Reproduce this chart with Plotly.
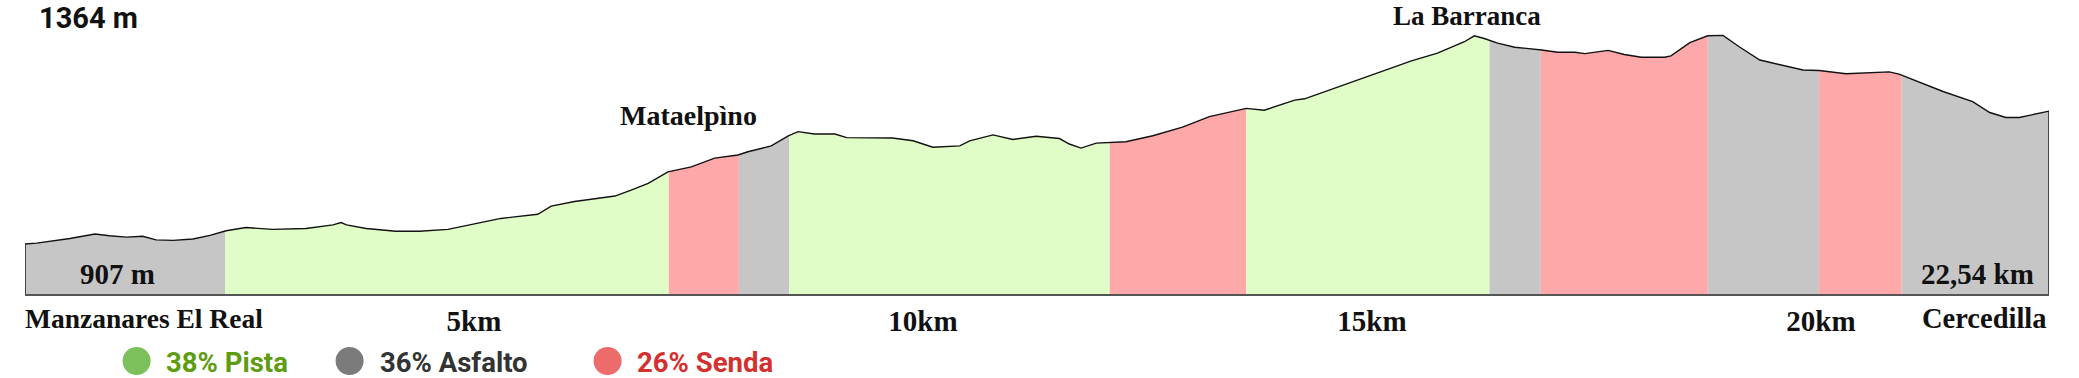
import numpy as np
import plotly.graph_objects as go

# ---------------- data ----------------
km = [0.00, 0.13, 0.31, 0.50, 0.78, 0.94, 1.13, 1.31, 1.46, 1.65, 1.87, 2.06, 2.24, 2.46,
      2.76, 3.13, 3.43, 3.52, 3.58, 3.80, 4.13, 4.39, 4.71, 5.01, 5.30, 5.71, 5.86, 6.12,
      6.57, 6.75, 6.94, 7.16, 7.42, 7.68, 7.94, 8.05, 8.31, 8.50, 8.61, 8.79, 9.02, 9.15,
      9.66, 9.89, 10.11, 10.41, 10.52, 10.78, 11.00, 11.26, 11.52, 11.63, 11.76, 11.93,
      12.08, 12.26, 12.56, 12.89, 13.19, 13.60, 13.80, 14.14, 14.25, 14.77, 15.10, 15.44,
      15.73, 16.03, 16.14, 16.25, 16.40, 16.59, 16.89, 17.07, 17.26, 17.37, 17.63, 17.81,
      18.00, 18.26, 18.33, 18.54, 18.74, 18.91, 19.09, 19.32, 19.80, 19.98, 20.28, 20.58,
      20.76, 20.87, 21.36, 21.69, 21.88, 22.06, 22.21, 22.54]
elevation = [907, 909, 914, 919, 929, 925, 922, 924, 916, 915, 918, 926, 936, 943,
             939, 941, 949, 954, 949, 941, 935, 935, 939, 951, 963, 972, 990, 1000,
             1012, 1025, 1040, 1065, 1076, 1095, 1102, 1109, 1122, 1144, 1153, 1148, 1148, 1140,
             1139, 1133, 1119, 1122, 1133, 1146, 1136, 1143, 1138, 1126, 1117, 1128,
             1130, 1131, 1144, 1163, 1186, 1204, 1200, 1222, 1225, 1262, 1284, 1308,
             1325, 1350, 1363, 1357, 1347, 1338, 1332, 1327, 1327, 1324, 1331, 1322,
             1316, 1316, 1319, 1348, 1363, 1364, 1339, 1310, 1288, 1287, 1280, 1282,
             1284, 1279, 1241, 1219, 1195, 1184, 1184, 1198]

seg_start = [0.00, 2.23, 7.17, 7.95, 8.51, 12.08, 13.60, 16.31, 16.88, 18.74, 19.98, 20.90]
seg_end = [2.23, 7.17, 7.95, 8.51, 12.08, 13.60, 16.31, 16.88, 18.74, 19.98, 20.90, 22.54]
seg_type = ["Asfalto", "Pista", "Senda", "Asfalto", "Pista", "Senda",
            "Pista", "Asfalto", "Senda", "Asfalto", "Senda", "Asfalto"]

tick_km = [5, 10, 15, 20]
tick_labels = ["5km", "10km", "15km", "20km"]

legend_names = ["Pista", "Asfalto", "Senda"]
legend_pct = [38, 36, 26]

start_name = "Manzanares El Real"
end_name = "Cercedilla"
places = ["Mataelpìno", "La Barranca"]
places_km = [7.39, 16.06]

total_km = 22.54
min_elev = 907
max_elev = 1364

# ---------------- styles ----------------
FILL = {"Pista": "#E0FCC7", "Asfalto": "#C6C6C6", "Senda": "#FFA8A9"}
DOT = {"Pista": "#7CC05C", "Asfalto": "#7B7B7B", "Senda": "#EE6B6B"}
TXT = {"Pista": "#5E9C12", "Asfalto": "#333333", "Senda": "#D3312F"}

W, H = 2079, 378
L, R, T, B = 25.4, 29.5, 0, 84
PW = W - L - R
PH = H - T - B
Y0, Y1 = 797.5, 1441.4

SERIF = "Liberation Serif, Times New Roman, serif"
SANS = "Roboto, Liberation Sans, Arial, sans-serif"


def pxx(px):
    return (px - L) / PW


def pxy(py):
    return (H - B - py) / PH


km_a = np.array(km)
el_a = np.array(elevation)

fig = go.Figure()

for s, e, t in zip(seg_start, seg_end, seg_type):
    inside = (km_a > s) & (km_a < e)
    xs = [s] + list(km_a[inside]) + [e]
    ys = [float(np.interp(s, km_a, el_a))] + list(el_a[inside]) + [float(np.interp(e, km_a, el_a))]
    fig.add_trace(go.Scatter(x=xs, y=ys, mode="lines", fill="tozeroy",
                             fillcolor=FILL[t], line=dict(width=0, color=FILL[t]),
                             hoverinfo="skip", showlegend=False))

# outline
fig.add_trace(go.Scatter(x=[km[0]] + km + [km[-1]], y=[Y0] + elevation + [Y0],
                         mode="lines", line=dict(color="#111111", width=1.4),
                         hoverinfo="skip", showlegend=False))

ann = []
ann.append(dict(text=f"{max_elev} m", xref="paper", yref="paper", x=pxx(38), y=1,
                xanchor="left", yanchor="top", showarrow=False, borderpad=0,
                font=dict(family=SANS, size=29, color="#111111", weight="bold")))
ann.append(dict(text=f"{min_elev} m", xref="paper", yref="paper", x=pxx(118), y=pxy(274),
                xanchor="center", yanchor="middle", showarrow=False,
                font=dict(family=SERIF, size=29, color="#111111", weight="bold")))
ann.append(dict(text=f"{total_km:.2f}".replace(".", ",") + " km", xref="paper", yref="paper",
                x=pxx(2036), y=pxy(274), xanchor="right", yanchor="middle", showarrow=False,
                font=dict(family=SERIF, size=29, color="#111111", weight="bold")))
ann.append(dict(text=places[0], xref="x", yref="paper", x=places_km[0], y=pxy(115),
                xanchor="center", yanchor="middle", showarrow=False,
                font=dict(family=SERIF, size=28, color="#111111", weight="bold")))
ann.append(dict(text=places[1], xref="x", yref="paper", x=places_km[1], y=1,
                xanchor="center", yanchor="top", showarrow=False, borderpad=0,
                font=dict(family=SERIF, size=27, color="#111111", weight="bold")))
ann.append(dict(text=start_name, xref="x", yref="paper", x=km[0], y=pxy(318),
                xanchor="left", yanchor="middle", showarrow=False, xshift=-2,
                font=dict(family=SERIF, size=27.5, color="#111111", weight="bold")))
ann.append(dict(text=end_name, xref="x", yref="paper", x=km[-1], y=pxy(318),
                xanchor="right", yanchor="middle", showarrow=False,
                font=dict(family=SERIF, size=28.5, color="#111111", weight="bold")))

shapes = []
dot_px = [137, 350, 608]
txt_px = [164, 378, 635]
for name, pct, dx, tx in zip(legend_names, legend_pct, dot_px, txt_px):
    shapes.append(dict(type="circle", xref="paper", yref="paper",
                       xsizemode="pixel", ysizemode="pixel",
                       xanchor=pxx(dx), yanchor=pxy(361),
                       x0=-14, x1=14, y0=-14, y1=14,
                       fillcolor=DOT[name], line=dict(width=0)))
    ann.append(dict(text=f"{pct}% {name}", xref="paper", yref="paper",
                    x=pxx(tx), y=pxy(362), xanchor="left", yanchor="middle",
                    showarrow=False,
                    font=dict(family=SANS, size=27.5, color=TXT[name], weight="bold")))

fig.update_layout(
    width=W, height=H,
    margin=dict(l=L, r=R, t=T, b=B, pad=0),
    paper_bgcolor="white", plot_bgcolor="white",
    showlegend=False,
    annotations=ann,
    shapes=shapes,
    xaxis=dict(range=[0, total_km], showgrid=False, zeroline=False,
               showline=True, linecolor="#555555", linewidth=2,
               tickvals=tick_km, ticktext=tick_labels, ticks="",
               ticklabelstandoff=0,
               tickfont=dict(family=SERIF, size=29, color="#111111", weight="bold")),
    yaxis=dict(range=[Y0, Y1], showgrid=False, zeroline=False, showticklabels=False,
               ticks="", showline=False),
)

fig.write_html("out.html")
